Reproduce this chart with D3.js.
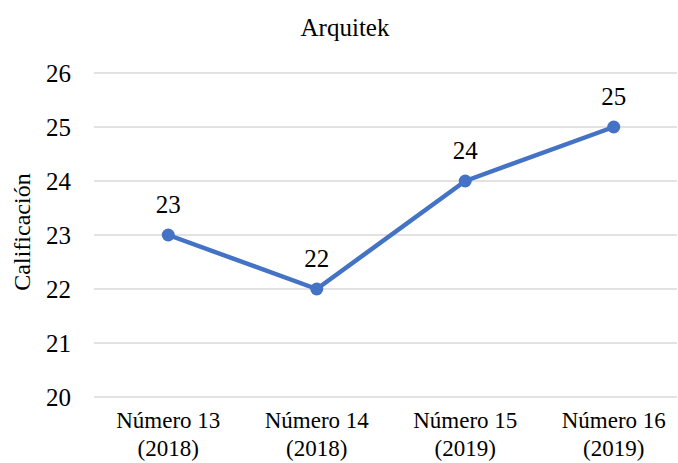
<!DOCTYPE html>
<html>
<head>
<meta charset="utf-8">
<script src="https://cdn.jsdelivr.net/npm/d3@7"></script>
<style>
  body { margin: 0; background: #fff; }
  svg text { fill: #000; }
</style>
</head>
<body>
<div id="chart"></div>
<script>
'use strict';

const categories = ['Número 13|(2018)', 'Número 14|(2018)', 'Número 15|(2019)', 'Número 16|(2019)'];
const scores = [23, 22, 24, 25];
const yTicks = [20, 21, 22, 23, 24, 25, 26];

const width = 678;
const height = 463;
const margin = { top: 73, right: -10, bottom: 66, left: 94 };
const gridRight = 677;
const serif = "'Liberation Serif', 'DejaVu Serif', serif";

const svg = d3.select('#chart').append('svg')
  .attr('width', width)
  .attr('height', height)
  .style('font-family', serif);

const x = d3.scaleBand()
  .domain(categories)
  .range([margin.left, width - margin.right]);

const y = d3.scaleLinear()
  .domain([20, 26])
  .range([height - margin.bottom, margin.top]);

const cx = (i) => x(categories[i]) + x.bandwidth() / 2;

// gridlines
svg.append('g')
  .selectAll('line')
  .data(yTicks)
  .join('line')
    .attr('x1', margin.left)
    .attr('x2', gridRight)
    .attr('y1', (d) => y(d))
    .attr('y2', (d) => y(d))
    .attr('stroke', '#d9d9d9')
    .attr('stroke-width', 1.3);

// y tick labels
svg.append('g')
  .selectAll('text')
  .data(yTicks)
  .join('text')
    .attr('x', 71)
    .attr('y', (d) => y(d))
    .attr('dy', '0.35em')
    .attr('text-anchor', 'end')
    .style('font-family', serif)
    .style('font-size', '25px')
    .text((d) => d);

// x category labels
const xLabels = svg.append('g')
  .selectAll('text')
  .data(categories)
  .join('text')
    .attr('text-anchor', 'middle')
    .style('font-family', serif)
    .style('font-size', '23px')
    .attr('transform', (d) => `translate(${x(d) + x.bandwidth() / 2}, 428)`);

xLabels.selectAll('tspan')
  .data((d) => d.split('|'))
  .join('tspan')
    .attr('x', 0)
    .attr('y', (d, i) => i * 28)
    .text((d) => d);

// line
const line = d3.line()
  .x((d, i) => cx(i))
  .y((d) => y(d));

svg.append('path')
  .datum(scores)
  .attr('d', line)
  .attr('fill', 'none')
  .attr('stroke', '#4472c4')
  .attr('stroke-width', 4.5)
  .attr('stroke-linejoin', 'round');

svg.append('g')
  .selectAll('circle')
  .data(scores)
  .join('circle')
    .attr('cx', (d, i) => cx(i))
    .attr('cy', (d) => y(d))
    .attr('r', 6.5)
    .attr('fill', '#4472c4');

// data labels
svg.append('g')
  .selectAll('text')
  .data(scores)
  .join('text')
    .attr('x', (d, i) => cx(i))
    .attr('y', (d) => y(d) - 22)
    .attr('text-anchor', 'middle')
    .style('font-family', serif)
    .style('font-size', '25px')
    .text((d) => d);

// title
svg.append('text')
  .attr('x', 345)
  .attr('y', 36)
  .attr('text-anchor', 'middle')
  .style('font-family', serif)
  .style('font-size', '25px')
  .text('Arquitek');

// y axis label
svg.append('text')
  .attr('transform', 'translate(30, 232) rotate(-90)')
  .attr('text-anchor', 'middle')
  .style('font-family', serif)
  .style('font-size', '24px')
  .text('Calificación');
</script>
</body>
</html>
